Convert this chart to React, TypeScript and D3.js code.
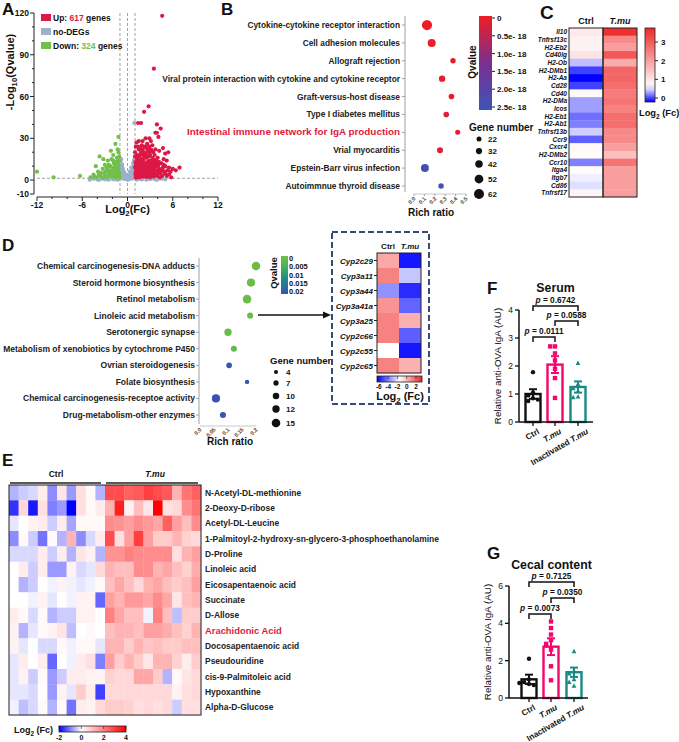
import * as d3 from 'd3'

const FONT = "'Liberation Sans', Arial, Helvetica, sans-serif"

// ---------- A: volcano ----------
const upPoints: [number, number][] = [
  [4.6, 118], [3.5, 80], [2.8, 53], [2.2, 49], [1.8, 41], [1.4, 41], [3.9, 40], [4.4, 37], [3.9, 34], [4.1, 31],
  [3.7, 34], [2.4, 30], [2.0, 28], [1.9, 25], [3.1, 28], [5.4, 20], [4.7, 23], [4.2, 21], [5.0, 19], [6.9, 9],
  [6.0, 8], [6.4, 7], [5.7, 6], [5.2, 14], [4.8, 15], [3.3, 25], [2.6, 26], [2.9, 24], [1.5, 22], [1.3, 18],
  [2.2, 20], [3.6, 18], [4.0, 16], [4.5, 12], [5.0, 10], [1.8, 15], [2.5, 16], [3.0, 18], [3.8, 12], [1.2, 12],
  [1.6, 10], [2.1, 12], [2.8, 10], [3.4, 9], [4.2, 8], [4.9, 6], [5.5, 4], [1.1, 6], [1.4, 4], [1.9, 7],
  [2.3, 5], [2.7, 6], [3.1, 4], [3.6, 5], [4.0, 3], [4.6, 3], [5.2, 3], [1.2, 2], [1.6, 2], [2.0, 2.5],
  [2.5, 2.2], [3.0, 2], [3.5, 2.5], [4.3, 2], [5.8, 2], [1.0, 9], [1.3, 15], [1.7, 18], [2.2, 17], [2.7, 21],
  [3.3, 14], [3.9, 7], [4.4, 5], [1.5, 28], [2.0, 22], [1.1, 24], [3.7, 22], [2.4, 12], [2.9, 14], [1.3, 8],
  [1.8, 5], [2.6, 3], [3.2, 7], [3.4, 20], [4.7, 9], [1.1, 3], [5.3, 7], [2.1, 9], [2.9, 30], [3.5, 12],
  [1.0, 17], [1.2, 27], [1.6, 14], [2.3, 24], [2.8, 17], [3.3, 11], [4.1, 11], [1.4, 11], [1.9, 3], [2.4, 8],
  [1.1, 1.8], [1.3, 2.8], [1.5, 3.5], [1.7, 4.5], [2.0, 4], [2.2, 3], [2.4, 6.5], [2.6, 5], [2.8, 4], [3.0, 5.5],
  [3.2, 3], [3.4, 4.5], [3.7, 3.5], [3.9, 4.5], [4.1, 5], [1.2, 5], [1.4, 6.5], [1.6, 7.5], [1.8, 8.5], [2.0, 10],
  [2.2, 7], [2.5, 9.5], [2.7, 8], [3.0, 9], [3.2, 10.5], [3.5, 7.5], [3.7, 9.5], [4.0, 10], [4.3, 6.5], [1.1, 10.5],
  [1.3, 13], [1.5, 12.5], [1.7, 11.5], [1.9, 13.5], [2.1, 14.5], [2.3, 11], [2.6, 13], [2.8, 12], [3.1, 12.5], [3.3, 16],
  [3.6, 14.5], [3.9, 13.5], [4.2, 13], [1.2, 16.5], [1.5, 17], [1.8, 20], [2.1, 18.5], [2.4, 19], [2.6, 17.5], [2.9, 20],
  [3.2, 21.5], [1.0, 20], [1.4, 24], [1.7, 23], [2.5, 23], [3.0, 22], [1.05, 13], [1.05, 4.5], [1.25, 7.5], [4.6, 7],
  [5.0, 4.5], [4.8, 11], [5.5, 9], [1.6, 5.5], [2.9, 6.5], [3.3, 5.5],
]
const downPoints: [number, number][] = [
  [-12, 6], [-9.8, 2], [-6.3, 3], [-4.9, 2], [-4.2, 10], [-3.7, 17], [-3.2, 15], [-2.6, 14], [-2.2, 21], [-1.6, 26],
  [-1.2, 31], [-1.4, 16], [-1.8, 12], [-2.1, 15], [-2.8, 9], [-3.3, 8], [-3.9, 6], [-4.5, 4], [-1.2, 8], [-1.5, 5],
  [-2.0, 6], [-2.5, 4], [-3.0, 3], [-3.6, 3], [-4.1, 2], [-1.1, 3], [-1.3, 12], [-1.7, 9], [-2.3, 10], [-2.9, 6],
  [-3.5, 5], [-1.6, 2], [-2.1, 2.5], [-2.7, 2], [-1.2, 20], [-1.9, 18], [-2.4, 7], [-1.4, 2], [-1.1, 14], [-1.5, 10],
  [-1.1, 5], [-1.3, 6.5], [-1.5, 7.5], [-1.7, 4], [-1.9, 7], [-2.2, 5], [-2.6, 6], [-3.1, 5], [-3.8, 4], [-1.2, 10.5],
  [-1.4, 13.5], [-1.6, 11], [-1.9, 14], [-2.5, 11], [-3.0, 11], [-1.1, 17], [-1.3, 22], [-1.8, 3], [-2.4, 3], [-3.3, 2],
  [-4.4, 2.5], [-1.05, 1.8], [-1.4, 3.5], [-2.0, 9], [-2.7, 8],
]
const grayPoints: [number, number][] = [
  [0.9, 41], [-0.9, 12], [-0.8, 10], [-0.6, 8], [-0.4, 5], [-0.2, 3], [0, 1], [0.2, 3], [0.4, 5], [0.6, 7],
  [0.8, 10], [0.95, 13], [-0.95, 14], [-0.7, 6], [-0.5, 3], [-0.3, 2], [0.3, 2], [0.5, 3], [0.7, 5], [0.9, 7],
  [-0.9, 5], [-0.8, 3], [0.85, 3], [-0.6, 1], [0.6, 1], [-1.2, 1], [1.3, 1], [-2, 0.8], [2, 0.8], [-3, 0.5],
  [3, 0.6], [-4, 0.4], [4, 0.5], [-5, 0.3], [5, 0.4], [-1.5, 0.6], [1.6, 0.9], [-2.5, 0.3], [2.5, 0.3], [-3.5, 0.8],
  [3.5, 0.9], [0.1, 0.5], [-0.1, 0.7], [-0.95, 8], [0.95, 9], [-0.85, 15], [0.9, 15], [-0.7, 11], [0.75, 12], [1.4, 1.1],
  [-1.1, 0.9], [-4.5, 0.9], [4.5, 1], [-0.5, 6], [0.5, 9], [-0.3, 4], [0.3, 6],
  [-0.95, 11], [-0.9, 9], [-0.85, 7], [-0.8, 5], [-0.7, 3], [-0.6, 4], [-0.5, 2], [-0.4, 1.5], [-0.3, 0.8], [-0.2, 1.5],
  [0.2, 1.2], [0.3, 0.9], [0.4, 2.5], [0.5, 1.5], [0.6, 4], [0.7, 2.5], [0.8, 6], [0.85, 4.5], [0.9, 11], [0.95, 6],
  [-0.95, 3.5], [-0.85, 12], [0.85, 14], [-1.8, 0.4], [1.9, 0.5], [-2.8, 0.9], [2.8, 1], [-3.8, 0.2], [3.8, 0.3], [-1.3, 0.2],
  [1.2, 0.3], [0, 0.2], [-0.75, 9], [0.75, 9], [-0.65, 2], [0.65, 6],
]
const volcanoYTicks = [120, 90, 60, 30, 0, -10]
const volcanoXTicks = [-12, -6, 0, 6, 12]

// ---------- B: KEGG ----------
const keggTerms = [
  'Cytokine-cytokine receptor interaction', 'Cell adhesion molecules', 'Allograft rejection',
  'Viral protein interaction with cytokine and cytokine receptor', 'Graft-versus-host disease',
  'Type I diabetes mellitus', 'Intestinal immune network for IgA production', 'Vrial myocarditis',
  'Epstein-Barr virus infection', 'Autoimmnue thyroid disease',
]
const keggRich = [0.125, 0.17, 0.375, 0.27, 0.36, 0.31, 0.42, 0.25, 0.105, 0.26]
const keggGenes = [64, 46, 25, 33, 27, 27, 22, 30, 46, 26]
const keggQ = [0, 0.02e-18, 0.1e-18, 0.12e-18, 0.1e-18, 0.15e-18, 0.12e-18, 0.15e-18, 2.3e-18, 2.4e-18]
const keggXTicks = [0, 0.1, 0.2, 0.3, 0.4, 0.5]
const keggQTicks = [0, 0.5e-18, 1.0e-18, 1.5e-18, 2.0e-18, 2.5e-18]
const keggQLabels = ['0', '0.5e- 18', '1.0e- 18', '1.5e- 18', '2.0e- 18', '2.5e- 18']
const keggSizeLegend = [22, 32, 42, 52, 62]

// ---------- C: gene heatmap ----------
const cGenes = [
  'Il10', 'Tnfrsf13c', 'H2-Eb2', 'Cd40lg', 'H2-Ob', 'H2-DMb1', 'H2-Aa', 'Cd28', 'Cd40', 'H2-DMa', 'Icos',
  'H2-Eb1', 'H2-Ab1', 'Tnfrsf13b', 'Ccr9', 'Cxcr4', 'H2-DMb2', 'Ccr10', 'Itga4', 'Itgb7', 'Cd86', 'Tnfrsf17',
]
const cCtrl = [0.9, 0.8, 0.8, 1.0, 0.4, 0.0, -0.2, 0.0, 0.7, 0.3, 0.3, 0.15, 0.2, 0.45, 0.1, 0.7, 0.65, 0.2, 0.65, 0.55, 0.5, 0.75]
const cTmu = [3.6, 2.3, 2.0, 3.0, 1.8, 2.8, 2.8, 2.7, 2.5, 2.6, 2.4, 2.7, 2.7, 2.3, 2.3, 2.0, 1.5, 2.6, 2.0, 2.0, 2.0, 2.0]
const cBarTicks = [0, 1, 2, 3]

// ---------- D: KEGG metabolism ----------
const dTerms = [
  'Chemical carcinogenesis-DNA adducts', 'Steroid hormone biosynthesis', 'Retinol metabolism',
  'Linoleic acid metabolism', 'Serotonergic synapse', 'Metabolism of xenobiotics by cytochrome P450',
  'Ovrian steroidogenesis', 'Folate biosynthesis', 'Chemical carcinogenesis-receptoe activity',
  'Drug-metabolism-other enzymes',
]
const dRich = [0.2, 0.182, 0.168, 0.179, 0.1, 0.121, 0.104, 0.168, 0.057, 0.082]
const dGenes = [15, 14, 15, 9, 12, 9, 8, 5, 14, 9]
const dQ = [0.001, 0.001, 0.001, 0.001, 0.0015, 0.002, 0.019, 0.019, 0.02, 0.019]
const dXTicks = [0, 0.05, 0.1, 0.15, 0.2]
const dQTicks = [0, 0.005, 0.01, 0.015, 0.02]
const dQLabels = ['0', '0.005', '0.01', '0.015', '0.02']
const dSizeLegend = [4, 7, 10, 12, 15]

// inset Cyp heatmap
const cypGenes = ['Cyp2c29', 'Cyp3a11', 'Cyp3a44', 'Cyp3a41a', 'Cyp3a25', 'Cyp2c66', 'Cyp2c55', 'Cyp2c65']
const cypCtrl = [0.4, 1.2, -3.6, 0.8, 1.2, 1.2, -1.5, 1.2]
const cypTmu = [-6.0, -2.6, -5.6, -4.5, 0.2, -4.6, -6.0, 0.2]
const cypTicks = [-6, -4, -2, 0, 2]

// ---------- E: metabolite heatmap ----------
const eNames = [
  'N-Acetyl-DL-methionine', '2-Deoxy-D-ribose', 'Acetyl-DL-Leucine',
  '1-Palmitoyl-2-hydroxy-sn-glycero-3-phosphoethanolamine', 'D-Proline', 'Linoleic acid',
  'Eicosapentaenoic acid', 'Succinate', 'D-Allose', 'Arachidonic Acid', 'Docosapentaenoic acid',
  'Pseudouridine', 'cis-9-Palmitoleic acid', 'Hypoxanthine', 'Alpha-D-Glucose',
]
const eCtrl = [
  [-0.6, -0.4, -0.3, 0.3, -0.9, 0.4, -0.8, 0.5, 0.1, -0.6],
  [-1.6, 0.6, -1.8, 0.5, -1.0, -0.8, -2.0, 0.5, 0.1, 0.3],
  [-0.2, 0.0, 0.2, 0.3, -0.4, 0.3, -0.7, 0.1, 0.1, 0.1],
  [-0.9, 0.1, -0.4, -1.1, 0.1, -0.6, 1.2, -0.9, -0.3, 0.3],
  [-0.3, -0.3, -0.3, 0.3, -0.4, 0.3, -0.6, 0.4, 0.2, -0.6],
  [0.0, 0.3, -0.4, 0.3, -0.8, -0.8, 0.2, -0.3, -0.2, 0.6],
  [0.0, -0.6, -0.4, 0.0, -0.1, 0.2, -0.1, -0.2, -0.1, 0.1],
  [0.0, 0.0, -0.1, 0.2, -0.2, 0.0, -0.1, 0.2, 0.2, -1.2],
  [0.3, 0.1, -0.3, 0.1, -0.6, -0.4, -0.4, 0.2, 0.2, 0.0],
  [0.2, -0.6, -0.2, 0.1, 0.2, 0.4, -0.5, 0.0, 0.1, 0.0],
  [0.2, -0.2, 0.0, -0.3, -0.3, 0.1, -0.1, 0.1, 0.1, -0.2],
  [-0.2, 0.3, 0.0, 0.3, -1.2, 0.0, -0.1, 0.3, 0.5, -1.0],
  [-0.2, 0.2, -0.4, 0.1, -0.8, -0.4, 0.3, 0.3, 0.2, 0.2],
  [-0.2, -0.2, -0.3, 0.0, -0.8, 0.2, -0.2, 0.8, 0.3, -1.5],
  [-0.1, -0.5, -0.3, 0.1, -0.6, 0.1, -1.1, 0.3, 0.2, 0.6],
]
const eTmu = [
  [2.8, 2.8, 2.5, 2.6, 3.0, 2.8, 2.6, 1.2, 2.2, 2.5],
  [1.2, 3.5, 0.2, 1.0, 0.4, 4.0, 0.5, 0.6, 1.8, 2.2],
  [1.8, 1.7, 1.5, 1.8, 1.6, 1.4, 2.5, 1.5, 1.0, 1.8],
  [2.8, 0.5, 1.5, 3.0, 1.5, 0.8, 0.8, 1.2, 0.7, 0.6],
  [1.7, 1.7, 2.0, 1.8, 1.8, 1.8, 1.8, 0.5, 1.2, 1.5],
  [1.2, 1.0, 1.0, 1.8, 1.8, 1.2, 1.4, 1.0, 0.7, 1.3],
  [1.0, 1.4, 1.0, 0.6, 1.2, 1.4, 1.0, 0.8, 1.0, 1.5],
  [1.5, 1.2, 1.6, 1.6, 1.4, 1.8, 1.4, 0.4, 1.0, 1.2],
  [2.0, 1.4, 1.0, 1.0, -0.1, 2.0, 1.0, -0.5, 0.8, 0.8],
  [1.0, 1.2, 1.2, 1.0, 1.5, 1.5, 1.3, 1.0, 0.7, 1.2],
  [1.2, 1.2, 0.8, 1.2, 0.9, 1.0, 0.8, 0.8, 1.0, 1.0],
  [1.5, 0.8, 1.2, 0.8, 0.4, 1.2, 1.2, 0.7, 0.3, 0.8],
  [0.7, 0.6, 0.6, 1.4, 1.4, 0.8, -0.6, 0.1, 0.4, 0.6],
  [0.6, 0.6, 0.6, 0.6, 0.6, 0.6, 0.6, 0.2, 0.5, 0.6],
  [0.8, 0.8, 0.7, 0.5, 0.6, 0.5, 0.6, -0.4, 0.5, 0.5],
]
const eTicks = [-2, 0, 2, 4]

// ---------- F / G: anti-OVA IgA ----------
const serumMean = [1.0, 2.05, 1.25]
const serumSem = [0.17, 0.3, 0.2]
const serumPts = [
  [1.78, 1.05, 0.95, 0.85, 0.8, 0.75],
  [2.7, 2.7, 2.45, 2.2, 1.9, 1.57, 0.86],
  [2.1, 1.35, 1.2, 1.1, 0.9, 0.88],
]
const serumP = ['p = 0.0111', 'p = 0.0588', 'p = 0.6742']
const cecalMean = [1.0, 2.75, 1.38]
const cecalSem = [0.25, 0.45, 0.25]
const cecalPts = [
  [2.1, 1.0, 0.85, 0.75, 0.7, 0.8],
  [4.1, 3.75, 3.4, 3.1, 2.9, 2.6, 1.7, 0.95],
  [2.5, 1.45, 1.3, 1.0, 0.85, 0.65],
]
const cecalP = ['p = 0.0073', 'p = 0.0350', 'p = 0.7125']

const RED = '#dc1846'
const GREEN = '#72c04a'
const GRAY = '#9eb0ca'
const groupColors = ['#111111', '#f4066f', '#178a82']

function Sub({ base, sub, rest }: { base: string; sub: string; rest: string }) {
  return (
    <>
      {base}
      <tspan dy={3} fontSize="70%">{sub}</tspan>
      <tspan dy={-3}>{rest}</tspan>
    </>
  )
}

function PanelA() {
  const x = d3.scaleLinear().domain([-12, 12]).range([37, 218])
  const y = d3.scaleLinear().domain([-10, 120]).range([194, 13])
  const axisX = 34
  const axisY = 197
  const minorX = d3.range(-12, 13, 2)
  const minorY = d3.range(-10, 121, 10)
  const dash = { stroke: '#8a8a8a', strokeWidth: 0.8, strokeDasharray: '3,2' }
  return (
    <g>
      {[-1, 0, 1].map((v) => (
        <line key={v} x1={x(v)} x2={x(v)} y1={y(120)} y2={y(-10)} {...dash} />
      ))}
      <line x1={x(-12)} x2={x(12)} y1={y(1.3)} y2={y(1.3)} {...dash} />
      {grayPoints.map((p, i) => <circle key={'g' + i} cx={x(p[0])} cy={y(p[1])} r={2.1} fill={GRAY} />)}
      {downPoints.map((p, i) => <circle key={'d' + i} cx={x(p[0])} cy={y(p[1])} r={2.1} fill={GREEN} />)}
      {upPoints.map((p, i) => <circle key={'u' + i} cx={x(p[0])} cy={y(p[1])} r={2.1} fill={RED} />)}
      <line x1={axisX} x2={axisX} y1={y(120)} y2={y(-10)} stroke="#222" strokeWidth={1} />
      {minorY.map((v) => (
        <line key={'my' + v} x1={axisX - (volcanoYTicks.includes(v) ? 4 : 2)} x2={axisX} y1={y(v)} y2={y(v)} stroke="#222" />
      ))}
      {volcanoYTicks.map((v) => (
        <text key={'ty' + v} x={axisX - 5} y={y(v) + 3} textAnchor="end" fontSize={8.5} fontWeight="bold">{v}</text>
      ))}
      <line x1={x(-12)} x2={x(12)} y1={axisY} y2={axisY} stroke="#222" strokeWidth={1} />
      {minorX.map((v) => (
        <line key={'mx' + v} x1={x(v)} x2={x(v)} y1={axisY} y2={axisY + (volcanoXTicks.includes(v) ? 4 : 2)} stroke="#222" />
      ))}
      {volcanoXTicks.map((v) => (
        <text key={'tx' + v} x={x(v)} y={axisY + 11} textAnchor="middle" fontSize={8.5} fontWeight="bold">{v}</text>
      ))}
      <text x={x(0)} y={213} textAnchor="middle" fontSize={11} fontWeight="bold">
        <Sub base="Log" sub="2" rest="(Fc)" />
      </text>
      <text transform="translate(14,72) rotate(-90)" textAnchor="middle" fontSize={11} fontWeight="bold">
        -Log<tspan dy={3} fontSize="70%">10</tspan><tspan dy={-3}>(Qvalue)</tspan>
      </text>
      <rect x={41} y={14} width={10} height={7} fill={RED} />
      <text x={53} y={21} fontSize={8.5} fontWeight="bold">Up: <tspan fill={RED}>617</tspan> genes</text>
      <rect x={41} y={28} width={10} height={7} fill={GRAY} />
      <text x={53} y={35} fontSize={8.5} fontWeight="bold">no-DEGs</text>
      <rect x={41} y={42} width={10} height={7} fill={GREEN} />
      <text x={53} y={49} fontSize={8.5} fontWeight="bold">Down: <tspan fill={GREEN}>324</tspan> genes</text>
    </g>
  )
}

const keggColor = d3.scaleLinear<string>().domain([0, 1.25e-18, 2.5e-18]).range(['#ee1d25', '#7a2f8f', '#3b55b6'])

function PanelB() {
  const y = d3.scalePoint<string>().domain(keggTerms).range([25, 186])
  const x = d3.scaleLinear().domain([0, 0.5]).range([414, 466])
  const size = d3.scaleLinear().domain([22, 62]).range([2.5, 5])
  const qy = d3.scaleLinear().domain([0, 2.5e-18]).range([18, 107])
  const legY = [139, 151, 164, 179, 194]
  return (
    <g>
      <line x1={405} x2={405} y1={16} y2={192} stroke="#a0a0a0" />
      {keggTerms.map((t, i) => (
        <g key={t}>
          <line x1={402} x2={405} y1={y(t)} y2={y(t)} stroke="#a0a0a0" />
          <text x={400} y={(y(t) ?? 0) + 3} textAnchor="end" fontSize={i === 6 ? 9.9 : 8.35} fontWeight="bold"
            fill={i === 6 ? '#e01a3c' : '#222'}>{t}</text>
          <circle cx={x(keggRich[i])} cy={y(t)} r={size(keggGenes[i])} fill={keggColor(keggQ[i])} />
        </g>
      ))}
      <line x1={x(0)} x2={x(0.5)} y1={194} y2={194} stroke="#c8c8c8" />
      {keggXTicks.map((v) => (
        <g key={v}>
          <line x1={x(v)} x2={x(v)} y1={194} y2={196} stroke="#a0a0a0" />
          <text transform={`translate(${x(v) + 2},199) rotate(-45)`} textAnchor="end" fontSize={5.5} fontWeight="bold" fill="#444">
            {v.toFixed(1)}
          </text>
        </g>
      ))}
      <text x={431} y={216} textAnchor="middle" fontSize={10} fontWeight="bold">Rich ratio</text>
      <rect x={479} y={16} width={13} height={94} fill="url(#gradB)" />
      {keggQTicks.map((v, i) => (
        <g key={v}>
          <line x1={492} x2={495} y1={qy(v)} y2={qy(v)} stroke="#222" />
          <text x={497} y={qy(v) + 3} fontSize={8} fontWeight="bold">{keggQLabels[i]}</text>
        </g>
      ))}
      <text transform="translate(476,62) rotate(-90)" textAnchor="middle" fontSize={10} fontWeight="bold">Qvalue</text>
      <text x={469} y={131} fontSize={10} fontWeight="bold">Gene number</text>
      {keggSizeLegend.map((g, i) => (
        <g key={g}>
          <circle cx={479} cy={legY[i]} r={size(g)} fill="#111" />
          <text x={488} y={legY[i] + 3} fontSize={8} fontWeight="bold">{g}</text>
        </g>
      ))}
    </g>
  )
}

const cColor = d3.scaleLinear<string>().domain([-0.2, 0.6, 3.7]).range(['#0000ff', '#ffffff', '#f02828'])

function PanelC() {
  const y = d3.scaleBand<string>().domain(cGenes).range([28, 197])
  const bar = d3.scaleLinear().domain([0, 3]).range([98, 42])
  const cols = [cCtrl, cTmu]
  const x0 = [569, 603]
  return (
    <g>
      <text x={586} y={24} textAnchor="middle" fontSize={9} fontWeight="bold">Ctrl</text>
      <text x={620} y={24} textAnchor="middle" fontSize={9} fontWeight="bold" fontStyle="italic">T.mu</text>
      {cols.map((col, c) =>
        cGenes.map((g, i) => (
          <rect key={c + g} x={x0[c]} y={y(g)} width={34} height={y.bandwidth() + 0.3} fill={cColor(col[i])} />
        )),
      )}
      <rect x={569} y={28} width={34} height={169} fill="none" stroke="#222" strokeWidth={1} />
      <rect x={603} y={28} width={34} height={169} fill="none" stroke="#222" strokeWidth={1} />
      {cGenes.map((g) => (
        <text key={g} x={567} y={(y(g) ?? 0) + y.bandwidth() / 2 + 2.3} textAnchor="end" fontSize={6.5}
          fontWeight="bold" fontStyle="italic">{g}</text>
      ))}
      <rect x={645} y={28} width={10} height={74} fill="url(#gradC)" stroke="#222" strokeWidth={0.8} />
      {cBarTicks.map((v) => (
        <g key={v}>
          <line x1={655} x2={658} y1={bar(v)} y2={bar(v)} stroke="#222" />
          <text x={661} y={bar(v) + 3} fontSize={8} fontWeight="bold">{v}</text>
        </g>
      ))}
      <text x={639} y={116} fontSize={9.3} fontWeight="bold"><Sub base="Log" sub="2" rest=" (Fc)" /></text>
    </g>
  )
}

const dColor = d3.scaleLinear<string>().domain([0, 0.005, 0.012, 0.02]).range(['#72c043', '#4fb35a', '#1f8b86', '#3a50b4'])
const cypColor = d3.scaleLinear<string>().domain([-6.4, -1.5, 3.3]).range(['#0000ff', '#ffffff', '#f02020'])

function PanelD() {
  const y = d3.scalePoint<string>().domain(dTerms).range([266, 415])
  const x = d3.scaleLinear().domain([0, 0.2]).range([200, 256])
  const size = d3.scaleLinear().domain([4, 15]).range([2, 4.3])
  const qy = d3.scaleLinear().domain([0, 0.02]).range([258, 291])
  const legY = [372, 383, 396, 409, 423]
  const iy = d3.scaleBand<string>().domain(cypGenes).range([253, 373])
  const ib = d3.scaleLinear().domain([-6.4, 3.3]).range([377, 422])
  return (
    <g>
      <line x1={199} x2={199} y1={258} y2={424} stroke="#a0a0a0" />
      {dTerms.map((t, i) => (
        <g key={t}>
          <line x1={196} x2={199} y1={y(t)} y2={y(t)} stroke="#a0a0a0" />
          <text x={195} y={(y(t) ?? 0) + 3} textAnchor="end" fontSize={8.5} fontWeight="bold" fill="#222">{t}</text>
          <circle cx={x(dRich[i])} cy={y(t)} r={size(dGenes[i])} fill={dColor(dQ[i])} />
        </g>
      ))}
      <line x1={x(0)} x2={x(0.2)} y1={426} y2={426} stroke="#c8c8c8" />
      {dXTicks.map((v) => (
        <text key={v} transform={`translate(${x(v) + 2},430) rotate(-45)`} textAnchor="end" fontSize={5.5}
          fontWeight="bold" fill="#444">{v === 0 ? '0.0' : String(v)}</text>
      ))}
      <text x={230} y={445} textAnchor="middle" fontSize={10} fontWeight="bold">Rich ratio</text>
      <rect x={281} y={256} width={7} height={38} fill="url(#gradD)" />
      {dQTicks.map((v, i) => (
        <text key={v} x={289} y={qy(v) + 3} fontSize={7.5} fontWeight="bold">{dQLabels[i]}</text>
      ))}
      <text transform="translate(277,273) rotate(-90)" textAnchor="middle" fontSize={9.5} fontWeight="bold">Qvalue</text>
      <text x={270} y={364} fontSize={9.5} fontWeight="bold">Gene number</text>
      {dSizeLegend.map((g, i) => (
        <g key={g}>
          <circle cx={276} cy={legY[i]} r={size(g)} fill="#111" />
          <text x={286} y={legY[i] + 3} fontSize={8} fontWeight="bold">{g}</text>
        </g>
      ))}
      <line x1={258} x2={325} y1={315} y2={315} stroke="#111" strokeWidth={1.6} />
      <polygon points="331,315 323,311.5 323,318.5" fill="#111" />
      <rect x={332} y={232} width={97} height={172} fill="none" stroke="#3a4a78" strokeWidth={2} strokeDasharray="6,3" />
      <text x={388} y={249} textAnchor="middle" fontSize={8} fontWeight="bold">Ctrl</text>
      <text x={410} y={249} textAnchor="middle" fontSize={8} fontWeight="bold" fontStyle="italic">T.mu</text>
      {[cypCtrl, cypTmu].map((col, c) =>
        cypGenes.map((g, i) => (
          <rect key={c + g} x={377 + c * 22} y={iy(g)} width={22} height={iy.bandwidth() + 0.3} fill={cypColor(col[i])} />
        )),
      )}
      <rect x={377} y={253} width={44} height={120} fill="none" stroke="#222" strokeWidth={1} />
      {cypGenes.map((g) => (
        <g key={g}>
          <line x1={374} x2={377} y1={(iy(g) ?? 0) + 7.5} y2={(iy(g) ?? 0) + 7.5} stroke="#222" />
          <text x={373} y={(iy(g) ?? 0) + 10.5} textAnchor="end" fontSize={8} fontWeight="bold" fontStyle="italic">{g}</text>
        </g>
      ))}
      <rect x={377} y={376} width={45} height={6} fill="url(#gradCyp)" stroke="#222" strokeWidth={0.8} />
      {cypTicks.map((v) => (
        <g key={v}>
          <line x1={ib(v)} x2={ib(v)} y1={376} y2={379} stroke="#222" strokeWidth={0.6} />
          <text x={ib(v)} y={389} textAnchor="middle" fontSize={6.5} fontWeight="bold">{v}</text>
        </g>
      ))}
      <text x={400} y={400} textAnchor="middle" fontSize={11} fontWeight="bold"><Sub base="Log" sub="2" rest=" (Fc)" /></text>
    </g>
  )
}

const eColor = d3.scaleLinear<string>().domain([-2, 0, 4]).range(['#0000ff', '#ffffff', '#ff0000'])

function PanelE() {
  const cols = d3.range(20)
  const x = d3.scaleBand<number>().domain(cols).range([9, 201])
  const y = d3.scaleBand<string>().domain(eNames).range([485, 715])
  const bx = d3.scaleLinear().domain([-2, 4]).range([59, 126])
  return (
    <g>
      <text x={56} y={477} textAnchor="middle" fontSize={8.5} fontWeight="bold">Ctrl</text>
      <text x={155} y={477} textAnchor="middle" fontSize={8.5} fontWeight="bold" fontStyle="italic">T.mu</text>
      <line x1={10} x2={101} y1={483} y2={483} stroke="#222" strokeWidth={1.5} />
      <line x1={106} x2={198} y1={483} y2={483} stroke="#222" strokeWidth={1.5} />
      {eNames.map((n, r) =>
        cols.map((c) => {
          const v = c < 10 ? eCtrl[r][c] : eTmu[r][c - 10]
          return <rect key={n + c} x={x(c)} y={y(n)} width={x.bandwidth() + 0.3} height={y.bandwidth() + 0.3} fill={eColor(v)} />
        }),
      )}
      <rect x={9} y={485} width={192} height={230} fill="none" stroke="#222" strokeWidth={1} />
      {eNames.map((n, r) => (
        <text key={n} x={205} y={(y(n) ?? 0) + y.bandwidth() / 2 + 3} fontSize={r === 9 ? 9.4 : 8.45} fontWeight="bold"
          fill={r === 9 ? '#e01a3c' : '#222'}>{n}</text>
      ))}
      <text x={14} y={733} fontSize={9} fontWeight="bold"><Sub base="Log" sub="2" rest=" (Fc)" /></text>
      <rect x={59} y={726} width={67} height={6} fill="url(#gradE)" stroke="#222" strokeWidth={0.8} />
      {eTicks.map((v) => (
        <g key={v}>
          <line x1={bx(v)} x2={bx(v)} y1={726} y2={729} stroke="#222" strokeWidth={0.6} />
          <text x={bx(v)} y={740} textAnchor="middle" fontSize={7} fontWeight="bold">{v}</text>
        </g>
      ))}
    </g>
  )
}

function swarm(vals: number[], y: (v: number) => number, r: number) {
  const placed: { x: number; y: number }[] = []
  return vals.map((v) => {
    const py = y(v)
    let dx = 0
    for (let k = 0; k < 9; k++) {
      const cand = k === 0 ? 0 : (k % 2 ? -1 : 1) * Math.ceil(k / 2) * r * 2.2
      if (placed.every((p) => Math.hypot(p.x - cand, p.y - py) >= r * 2)) { dx = cand; break }
    }
    placed.push({ x: dx, y: py })
    return { dx, py }
  })
}

function Marker({ kind, x, y, color }: { kind: number; x: number; y: number; color: string }) {
  if (kind === 0) return <circle cx={x} cy={y} r={2.2} fill={color} />
  if (kind === 1) return <rect x={x - 2.2} y={y - 2.2} width={4.4} height={4.4} fill={color} />
  return <polygon points={`${x},${y - 2.6} ${x - 2.4},${y + 1.8} ${x + 2.4},${y + 1.8}`} fill={color} />
}

interface BarProps {
  title: string
  means: number[]
  sems: number[]
  pts: number[][]
  pLabels: string[]
  yMax: number
  yTicks: number[]
  axisX: number
  top: number
  bottom: number
  centers: number[]
  xEnd: number
  titleY: number
  pY: number[]
}

function BarPanel(p: BarProps) {
  const y = d3.scaleLinear().domain([0, p.yMax]).range([p.bottom, p.top])
  const bw = 15
  const pairs: [number, number][] = [[0, 1], [1, 2], [0, 2]]
  const labelDx = [7, 7, 11]
  return (
    <g>
      <text x={(p.centers[0] + p.centers[2]) / 2} y={p.titleY} textAnchor="middle" fontSize={12.3} fontWeight="bold">{p.title}</text>
      {p.means.map((m, i) => {
        const c = p.centers[i]
        const col = groupColors[i]
        const sw = swarm(p.pts[i], y, 2.2)
        return (
          <g key={i}>
            <rect x={c - bw / 2} y={y(m)} width={bw} height={p.bottom - y(m)} fill="#fff" stroke={col} strokeWidth={2.4} />
            {sw.map((s, k) => <Marker key={k} kind={i} x={c + s.dx} y={s.py} color={col} />)}
            <line x1={c} x2={c} y1={y(m - p.sems[i])} y2={y(m + p.sems[i])} stroke={col} strokeWidth={2} />
            <line x1={c - 4} x2={c + 4} y1={y(m + p.sems[i])} y2={y(m + p.sems[i])} stroke={col} strokeWidth={2} />
            <line x1={c - 4} x2={c + 4} y1={y(m - p.sems[i])} y2={y(m - p.sems[i])} stroke={col} strokeWidth={2} />
          </g>
        )
      })}
      <line x1={p.axisX} x2={p.axisX} y1={p.top} y2={p.bottom} stroke="#111" strokeWidth={1.5} />
      {p.yTicks.map((v) => (
        <g key={v}>
          <line x1={p.axisX - 4} x2={p.axisX} y1={y(v)} y2={y(v)} stroke="#111" strokeWidth={1.3} />
          <text x={p.axisX - 6} y={y(v) + 3} textAnchor="end" fontSize={8.5}>{v}</text>
        </g>
      ))}
      <line x1={p.axisX} x2={p.xEnd} y1={p.bottom} y2={p.bottom} stroke="#111" strokeWidth={1.5} />
      {p.centers.map((c, i) => (
        <g key={i}>
          <line x1={c} x2={c} y1={p.bottom} y2={p.bottom + 4} stroke="#111" strokeWidth={1.3} />
          <text transform={`translate(${c + labelDx[i]},${p.bottom + 11}) rotate(-30)`} textAnchor="end" fontSize={8.3} fontWeight="bold">
            {i === 0 ? 'Ctrl' : i === 1 ? <tspan fontStyle="italic">T.mu</tspan> : <>Inactivated <tspan fontStyle="italic">T.mu</tspan></>}
          </text>
        </g>
      ))}
      <text transform={`translate(${p.axisX - 18},${(p.top + p.bottom) / 2}) rotate(-90)`} textAnchor="middle" fontSize={9.8}>
        Relative anti-OVA IgA (AU)
      </text>
      {pairs.map(([a, b], k) => {
        const x1 = p.centers[a]
        const x2 = p.centers[b]
        const by = p.pY[k]
        return (
          <g key={k}>
            <path d={`M${x1},${by + 5}V${by}H${x2}V${by + 5}`} fill="none" stroke="#111" strokeWidth={1.5} />
            <text x={(x1 + x2) / 2} y={by - 3} textAnchor="middle" fontSize={8.3} fontWeight="bold">
              <tspan fontStyle="italic">p</tspan>{p.pLabels[k].slice(1)}
            </text>
          </g>
        )
      })}
    </g>
  )
}

function gradStops(scale: (v: number) => string, domain: [number, number], n = 12) {
  return d3.range(n + 1).map((i) => {
    const v = domain[0] + ((domain[1] - domain[0]) * i) / n
    return <stop key={i} offset={`${(i / n) * 100}%`} stopColor={scale(v)} />
  })
}

export default function App() {
  return (
    <div style={{ position: 'absolute', left: 0, top: 0 }}>
      <svg width={679} height={742} viewBox="0 0 679 742" style={{ display: 'block', background: '#fff' }}
        fontFamily={FONT} fill="#111">
        <defs>
          <linearGradient id="gradB" x1="0" y1="0" x2="0" y2="1">{gradStops(keggColor, [0, 2.5e-18])}</linearGradient>
          <linearGradient id="gradC" x1="0" y1="1" x2="0" y2="0">{gradStops(cColor, [-0.2, 3.7])}</linearGradient>
          <linearGradient id="gradD" x1="0" y1="0" x2="0" y2="1">{gradStops(dColor, [0, 0.02])}</linearGradient>
          <linearGradient id="gradCyp" x1="0" y1="0" x2="1" y2="0">{gradStops(cypColor, [-6.4, 3.3])}</linearGradient>
          <linearGradient id="gradE" x1="0" y1="0" x2="1" y2="0">{gradStops(eColor, [-2, 4])}</linearGradient>
        </defs>
        <rect width={679} height={742} fill="#fff" />
        <g fontWeight="bold" fontSize={17}>
          <text x={2} y={15}>A</text>
          <text x={221} y={15}>B</text>
          <text x={540} y={19} fontSize={19}>C</text>
          <text x={2} y={251}>D</text>
          <text x={2} y={466}>E</text>
          <text x={487} y={294}>F</text>
          <text x={487} y={559}>G</text>
        </g>
        <PanelA />
        <PanelB />
        <PanelC />
        <PanelD />
        <PanelE />
        <BarPanel title="Serum" means={serumMean} sems={serumSem} pts={serumPts} pLabels={serumP} yMax={4}
          yTicks={[0, 1, 2, 3, 4]} axisX={519} top={310} bottom={422} centers={[533, 555, 578]} xEnd={593}
          titleY={292} pY={[337, 321, 306]} />
        <BarPanel title="Cecal content" means={cecalMean} sems={cecalSem} pts={cecalPts} pLabels={cecalP} yMax={6}
          yTicks={[0, 2, 4, 6]} axisX={509} top={586} bottom={698} centers={[529, 551, 574]} xEnd={588}
          titleY={569} pY={[614, 598, 582]} />
      </svg>
    </div>
  )
}
